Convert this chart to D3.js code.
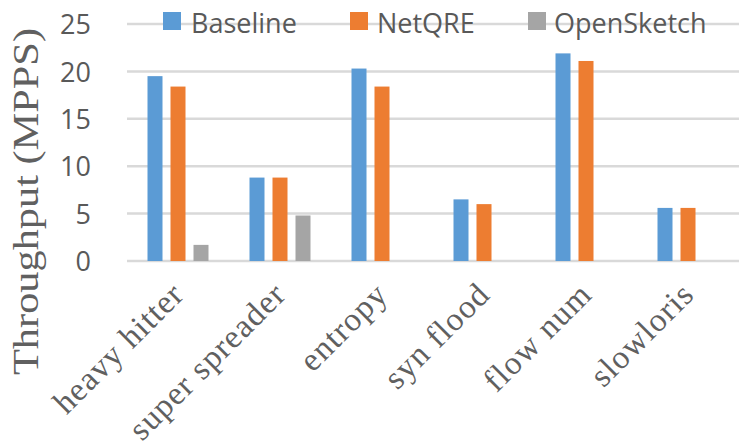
<!DOCTYPE html>
<html>
<head>
<meta charset="utf-8">
<script src="https://cdn.jsdelivr.net/npm/d3@7"></script>
<style>
  html, body { margin: 0; padding: 0; background: #fff; }
  svg { display: block; }
</style>
</head>
<body>
<svg id="chart" width="742" height="446"></svg>
<script>
// Throughput per query, in millions of packets per second
const categories = ["heavy hitter", "super spreader", "entropy", "syn flood", "flow num", "slowloris"];
const seriesNames = ["Baseline", "NetQRE", "OpenSketch"];
const baseline   = [19.5, 8.8, 20.3, 6.5, 21.9, 5.6];
const netqre     = [18.4, 8.8, 18.4, 6.0, 21.1, 5.6];
const opensketch = [1.7, 4.8, null, null, null, null];
const yTicks = [0, 5, 10, 15, 20, 25];
const colors = ["#5B9BD5", "#ED7D31", "#A5A5A5"];

const seriesValues = [baseline, netqre, opensketch];

const svg = d3.select("#chart");
const plot = { left: 127, right: 739, top: 24, bottom: 261 };

const y = d3.scaleLinear().domain([0, 25]).range([plot.bottom, plot.top]);
const x0 = d3.scaleBand().domain(categories).range([plot.left, plot.right]).padding(0);
const x1 = d3.scaleBand().domain(seriesNames)
  .range([20.5, 81.5]).paddingInner(8 / 23).paddingOuter(0);
const color = d3.scaleOrdinal().domain(seriesNames).range(colors);

// Horizontal gridlines
svg.append("g").attr("class", "grid")
  .selectAll("line").data(yTicks).join("line")
  .attr("x1", plot.left).attr("x2", plot.right)
  .attr("y1", d => y(d)).attr("y2", d => y(d))
  .attr("stroke", "#D9D9D9").attr("stroke-width", 2.5);

// Y axis tick labels
const yAxis = d3.axisLeft(y).tickValues(yTicks).tickSize(0).tickPadding(0);
const yg = svg.append("g").attr("transform", "translate(91,0)").call(yAxis);
yg.select(".domain").remove();
yg.selectAll("text")
  .attr("font-family", "'Open Sans', sans-serif")
  .attr("font-size", 27)
  .attr("fill", "#595959")
  .attr("dy", "0.36em");

// Y axis title
svg.append("text")
  .attr("transform", "translate(38,201.5) rotate(-90)")
  .attr("text-anchor", "middle")
  .attr("font-family", "'Liberation Serif', 'Times New Roman', serif")
  .attr("font-size", 35)
  .attr("fill", "#606060")
  .attr("textLength", 347)
  .attr("lengthAdjust", "spacingAndGlyphs")
  .text("Throughput (MPPS)");

// Bars
const rows = categories.map((c, i) => ({
  category: c,
  values: seriesNames.map((s, j) => ({ series: s, value: seriesValues[j][i] }))
    .filter(d => d.value != null)
}));

svg.append("g").attr("class", "bars")
  .selectAll("g").data(rows).join("g")
  .attr("transform", d => `translate(${x0(d.category)},0)`)
  .selectAll("rect").data(d => d.values).join("rect")
  .attr("x", d => x1(d.series))
  .attr("width", x1.bandwidth())
  .attr("y", d => y(d.value))
  .attr("height", d => y(0) - y(d.value))
  .attr("fill", d => color(d.series));

// Category labels, rotated; spacing widened slightly
const xl = svg.append("g").attr("class", "xlabels")
  .selectAll("text").data(categories).join("text")
  .attr("transform", d => `translate(${x0(d) + x0.bandwidth() / 2 + 7},297) rotate(-45)`)
  .attr("text-anchor", "end")
  .attr("font-family", "'Liberation Serif', 'Times New Roman', serif")
  .attr("font-size", 33)
  .attr("fill", "#606060")
  .text(d => d);
xl.each(function () {
  const len = this.getComputedTextLength();
  d3.select(this).attr("textLength", len * 1.07).attr("lengthAdjust", "spacing");
});

// Legend
const legendItems = [
  { name: "Baseline", sx: 163, tx: 191 },
  { name: "NetQRE", sx: 350, tx: 377 },
  { name: "OpenSketch", sx: 528, tx: 554 }
];
const lg = svg.append("g").attr("class", "legend");
lg.selectAll("rect").data(legendItems).join("rect")
  .attr("x", d => d.sx).attr("y", 12)
  .attr("width", 18).attr("height", 18)
  .attr("fill", d => color(d.name));
lg.selectAll("text").data(legendItems).join("text")
  .attr("x", d => d.tx).attr("y", 33)
  .attr("font-family", "'Open Sans', sans-serif")
  .attr("font-size", 27)
  .attr("fill", "#595959")
  .text(d => d.name);
</script>
</body>
</html>
